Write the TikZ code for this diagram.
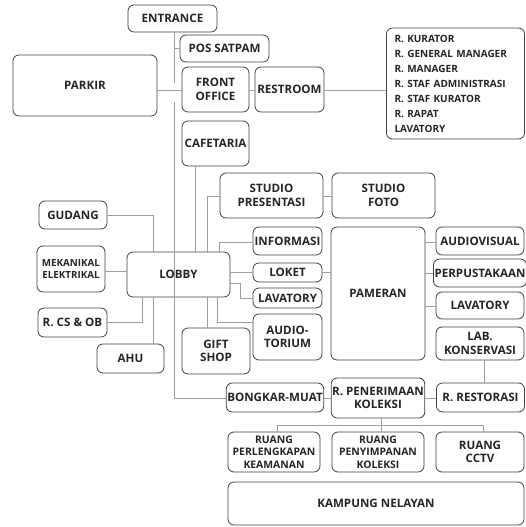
\documentclass[tikz,border=0pt]{standalone}
\usepackage{fontspec}
\setmainfont{Open Sans}
\begin{document}
\begin{tikzpicture}[x=1pt,y=-1pt,
  box/.style={draw=black!75, line width=0.8pt, rounded corners=6pt, fill=white,
    align=center, inner sep=1pt, font=\bfseries\fontsize{11.6}{13.5}\selectfont, text=black!85},
  conn/.style={draw=black!38, line width=0.9pt}]
\useasboundingbox (0,0) rectangle (526,527);
\coordinate (t0) at (174,32);
\coordinate (t1) at (174,83);
\coordinate (t2) at (174,102);
\coordinate (t3) at (174,398);
\coordinate (tp) at (174,48.5);

% boxes
\node[box, minimum width=89, minimum height=27] (entrance) at (172.5,18.5) {ENTRANCE};
\node[box, minimum width=89, minimum height=27] (pos) at (224.5,48.5) {POS SATPAM};
\node[box, minimum width=144, minimum height=61] (parkir) at (85,85.5) {PARKIR};
\node[box, minimum width=67, minimum height=45] (front) at (215.5,89.5) {FRONT\\OFFICE};
\node[box, minimum width=69, minimum height=45] (restroom) at (289.5,89.5) {RESTROOM};
\node[box, minimum width=138, minimum height=111, text width=122, align=left,
  font=\bfseries\fontsize{10}{15}\selectfont] (list) at (455.5,83.5)
  {R. KURATOR\\R. GENERAL MANAGER\\R. MANAGER\\R. STAF ADMINISTRASI\\R. STAF KURATOR\\R. RAPAT\\LAVATORY};
\node[box, minimum width=67, minimum height=45] (cafe) at (215.5,143.5) {CAFETARIA};
\node[box, minimum width=103, minimum height=45] (studiop) at (271.5,195.5) {STUDIO\\PRESENTASI};
\node[box, minimum width=103, minimum height=45] (studiof) at (383.5,195.5) {STUDIO\\FOTO};
\node[box, minimum width=68, minimum height=28] (gudang) at (73,215) {GUDANG};
\node[box, minimum width=68, minimum height=46, font=\bfseries\fontsize{9.8}{12}\selectfont] (mek) at (71,269) {MEKANIKAL\\ELEKTRIKAL};
\node[box, minimum width=103, minimum height=45] (lobby) at (178.5,274.5) {LOBBY};
\node[box, minimum width=69, minimum height=29] (rcs) at (72.5,322.5) {R. CS \& OB};
\node[box, minimum width=67, minimum height=29] (ahu) at (130.5,358.5) {AHU};
\node[box, minimum width=69, minimum height=28] (info) at (287.5,241) {INFORMASI};
\node[box, minimum width=69, minimum height=19] (loket) at (287.5,272.5) {LOKET};
\node[box, minimum width=69, minimum height=20] (lavA) at (287.5,298) {LAVATORY};
\node[box, minimum width=69, minimum height=46] (audit) at (287.5,337) {AUDIO-\\TORIUM};
\node[box, minimum width=68, minimum height=46] (gift) at (216,351) {GIFT\\SHOP};
\node[box, minimum width=94, minimum height=133] (pameran) at (378,293.5) {PAMERAN};
\node[box, minimum width=88, minimum height=28] (audiov) at (480,241) {AUDIOVISUAL};
\node[box, minimum width=88, minimum height=28] (perpus) at (480,273) {PERPUSTAKAAN};
\node[box, minimum width=88, minimum height=27] (lavB) at (480,305.5) {LAVATORY};
\node[box, minimum width=88, minimum height=33] (lab) at (480,343.5) {LAB.\\KONSERVASI};
\node[box, minimum width=94, minimum height=29] (bongkar) at (275,397.5) {BONGKAR-MUAT};
\node[box, minimum width=92, minimum height=40] (rpen) at (378,398) {R. PENERIMAAN\\KOLEKSI};
\node[box, minimum width=88, minimum height=29] (restor) at (480.5,397.5) {R. RESTORASI};
\node[box, minimum width=92, minimum height=40, font=\bfseries\fontsize{10.4}{12.5}\selectfont] (rperl) at (274,452) {RUANG\\PERLENGKAPAN\\KEAMANAN};
\node[box, minimum width=92, minimum height=40, font=\bfseries\fontsize{10.4}{12.5}\selectfont] (rpeny) at (378,452) {RUANG\\PENYIMPANAN\\KOLEKSI};
\node[box, minimum width=88, minimum height=40] (cctv) at (480,452) {RUANG\\CCTV};
\node[box, minimum width=296, minimum height=43] (kampung) at (376,503.5) {KAMPUNG NELAYAN};

% connectors
\draw[conn] (entrance.south -| t0) -- (t1);
\draw[conn] (tp) -- (tp -| pos.west);
\draw[conn] (parkir.east |- 0,90) -- (front.west |- 0,90);
\draw[conn] (t2) -- (t3) -- (t3 -| bongkar.west);
\draw[conn] (front.east |- 0,90) -- (restroom.west |- 0,90);
\draw[conn] (restroom.east |- 0,90) -- (list.west |- 0,90);
\draw[conn] (cafe.south -| 195,0) -- (lobby.north -| 195,0);
\draw[conn] (studiop.west |- 0,196) -- (207,196) -- (lobby.north -| 207,0);
\draw[conn] (studiop.east |- 0,196) -- (studiof.west |- 0,196);
\draw[conn] (gudang.east |- 0,215) -- (153,215) -- (lobby.north -| 153,0);
\draw[conn] (mek.east |- 0,271) -- (lobby.west |- 0,271);
\draw[conn] (rcs.east |- 0,322) -- (142,322) -- (lobby.south -| 142,0);
\draw[conn] (ahu.north -| 153,0) -- (lobby.south -| 153,0);
\draw[conn] (info.west |- 0,242) -- (219,242) -- (lobby.north -| 219,0);
\draw[conn] (lobby.east |- 0,272) -- (loket.west |- 0,272);
\draw[conn] (lobby.east |- 0,283) -- (240,283) -- (240,298) -- (lavA.west |- 0,298);
\draw[conn] (lobby.south -| 217,0) -- (217,322) -- (audit.west |- 0,322);
\draw[conn] (lobby.south -| 207,0) -- (gift.north -| 207,0);
\draw[conn] (loket.east |- 0,272) -- (pameran.west |- 0,272);
\draw[conn] (pameran.east |- 0,242) -- (audiov.west |- 0,242);
\draw[conn] (pameran.east |- 0,273) -- (perpus.west |- 0,273);
\draw[conn] (pameran.east |- 0,306) -- (lavB.west |- 0,306);
\draw[conn] (lab.south -| 484,0) -- (restor.north -| 484,0);
\draw[conn] (bongkar.east |- 0,398) -- (rpen.west |- 0,398);
\draw[conn] (rpen.east |- 0,398) -- (restor.west |- 0,398);
\coordinate (bus) at (381,425);
\draw[conn] (rpen.south -| bus) -- (bus);
\draw[conn] (277,425) -- (483,425);
\draw[conn] (277,425) -- (rperl.north -| 277,0);
\draw[conn] (bus) -- (rpeny.north -| bus);
\draw[conn] (483,425) -- (cctv.north -| 483,0);
\end{tikzpicture}
\end{document}
